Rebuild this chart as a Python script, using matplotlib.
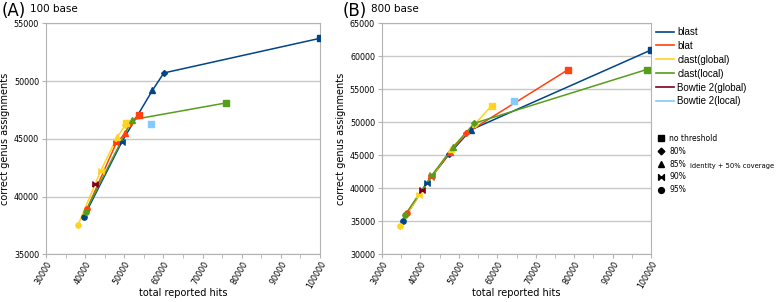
import matplotlib.pyplot as plt
from matplotlib.lines import Line2D

# marker order: no threshold, 80%, 85%, 90%, 95%
bowtie = [(-1, -1), (1, 1), (1, -1), (-1, 1), (-1, -1)]
thr_markers = ['s', 'D', '^', bowtie, 'o']
thr_labels = ['no threshold', '80%', '85%', '90%', '95%']

tools = ['blast', 'blat', 'clast(global)', 'clast(local)', 'Bowtie 2(global)', 'Bowtie 2(local)']
colors = ['#004586', '#ff420e', '#ffd320', '#579d1c', '#7e0021', '#83caff']

# (A) 100 base
a_x = {
    'blast': [100000, 60100, 57200, 49400, 39600],
    'blat': [53800, 51200, 50300, 47900, 40500],
    'clast(global)': [50500, 50300, 48200, 44000, 38200],
    'clast(local)': [75900, 52000, 40100],
    'Bowtie 2(global)': [42500],
    'Bowtie 2(local)': [56700],
}
a_y = {
    'blast': [53700, 50700, 49200, 44750, 38200],
    'blat': [47100, 46300, 45500, 44600, 38950],
    'clast(global)': [46400, 46200, 45150, 42250, 37550],
    'clast(local)': [48100, 46650, 38700],
    'Bowtie 2(global)': [41050],
    'Bowtie 2(local)': [46300],
}
a_m = {
    'blast': [0, 1, 2, 3, 4],
    'blat': [0, 1, 2, 3, 4],
    'clast(global)': [0, 1, 2, 3, 4],
    'clast(local)': [0, 2, 4],
    'Bowtie 2(global)': [3],
    'Bowtie 2(local)': [0],
}

# (B) 800 base
b_x = {
    'blast': [100000, 53100, 47500, 41600, 35400],
    'blat': [78500, 51900, 47800, 42700, 36400],
    'clast(global)': [58500, 54200, 48000, 39700, 34700],
    'clast(local)': [98900, 54000, 48600, 43000, 36000],
    'Bowtie 2(global)': [40300],
    'Bowtie 2(local)': [64400],
}
b_y = {
    'blast': [60950, 48850, 45200, 40750, 35050],
    'blat': [58000, 48350, 45500, 41650, 36200],
    'clast(global)': [52500, 49750, 46000, 39000, 34350],
    'clast(local)': [58000, 49850, 46300, 42000, 35950],
    'Bowtie 2(global)': [39700],
    'Bowtie 2(local)': [53250],
}
b_m = {
    'blast': [0, 2, 1, 3, 4],
    'blat': [0, 1, 2, 3, 4],
    'clast(global)': [0, 1, 2, 3, 4],
    'clast(local)': [0, 1, 2, 3, 4],
    'Bowtie 2(global)': [3],
    'Bowtie 2(local)': [0],
}

fig = plt.figure(figsize=(7.78, 3.02), dpi=100)
ax_a = fig.add_axes([46 / 778, 1 - 254.3 / 302, 274 / 778, 231 / 302])
ax_b = fig.add_axes([382 / 778, 1 - 254.3 / 302, 269 / 778, 231 / 302])


def draw(ax, xs, ys, ms, ylim):
    for tool, col in zip(tools, colors):
        x, y = xs[tool], ys[tool]
        if len(x) > 1:
            ax.plot(x, y, color=col, lw=1.1, zorder=2)
        for xi, yi, mi in zip(x, y, ms[tool]):
            ax.plot(xi, yi, marker=thr_markers[mi], color=col, ms=3.8 if mi != 1 else 3,
                    ls='none', zorder=3)
    ax.set_xlim(30000, 100000)
    ax.set_ylim(*ylim)
    ax.set_xticks(range(30000, 100001, 10000))
    ax.set_xticks(range(35000, 100000, 10000), minor=True)
    ax.set_yticks(range(ylim[0], ylim[1] + 1, 5000))
    ax.tick_params(axis='x', labelrotation=60, labelsize=5.8, color='#b3b3b3', length=3, pad=1)
    ax.tick_params(axis='x', which='minor', color='#b3b3b3', length=3)
    ax.tick_params(axis='y', labelsize=5.8, color='#b3b3b3', length=3, pad=2)
    for lab in ax.get_xticklabels():
        lab.set_ha('right')
        lab.set_rotation_mode('anchor')
    ax.grid(axis='y', color='#c8c8c8', lw=1)
    ax.set_axisbelow(True)
    for s in ax.spines.values():
        s.set_color('#b3b3b3')
    ax.set_xlabel('total reported hits', fontsize=7)
    ax.xaxis.set_label_coords(0.5, -0.145)
    ax.set_ylabel('correct genus assignments', fontsize=7, labelpad=3)


draw(ax_a, a_x, a_y, a_m, (35000, 55000))
draw(ax_b, b_x, b_y, b_m, (30000, 65000))

fig.text(2 / 778, 1 - 11 / 302, '(A)', fontsize=12, va='center')
fig.text(30 / 778, 1 - 9 / 302, '100 base', fontsize=7.5, va='center')
fig.text(343 / 778, 1 - 11 / 302, '(B)', fontsize=12, va='center')
fig.text(371 / 778, 1 - 9 / 302, '800 base', fontsize=7.5, va='center')

line_handles = [Line2D([], [], color=c, lw=1.2) for c in colors]
fig.legend(line_handles, tools, loc='upper left', bbox_to_anchor=(656 / 778, 1 - 27 / 302),
           frameon=False, handlelength=1.9, handletextpad=0.3,
           labelspacing=0.4, borderaxespad=0, borderpad=0,
           prop={'family': 'Liberation Sans', 'size': 7})

mk_handles = [Line2D([], [], marker=m, color='black', ls='none', ms=4.2 if i != 1 else 3.4)
              for i, m in enumerate(thr_markers)]
fig.legend(mk_handles, thr_labels, loc='upper left', bbox_to_anchor=(657 / 778, 1 - 134 / 302),
           frameon=False, handlelength=1.0, handletextpad=0.6,
           labelspacing=0.5, borderaxespad=0, borderpad=0,
           prop={'size': 5.5})
fig.text(690 / 778, 1 - 166 / 302, 'identity + 50% coverage', fontsize=4.9, va='center')

fig.savefig('out.png', dpi=100)
